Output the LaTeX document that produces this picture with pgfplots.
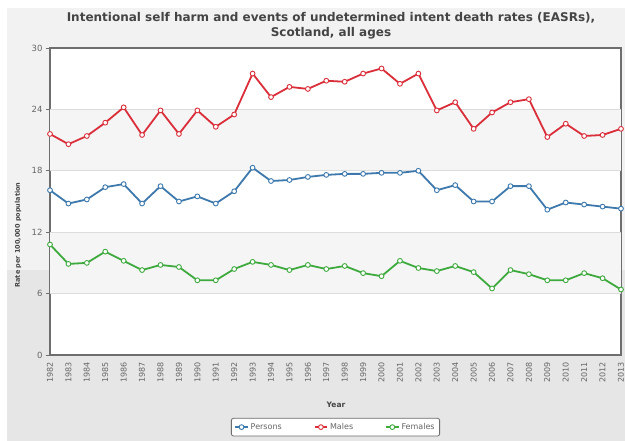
\documentclass[border=0pt]{standalone}
\usepackage{fontspec}
\setmainfont{DejaVu Sans}
\usepackage{pgfplots}
\pgfplotsset{compat=1.18}
\definecolor{persons}{HTML}{3D79AD}
\definecolor{males}{HTML}{DA2F3A}
\definecolor{females}{HTML}{3EAA3E}
\definecolor{bgtop}{HTML}{F2F2F2}
\definecolor{bgbot}{HTML}{E6E6E6}
\definecolor{band}{HTML}{F5F5F5}
\definecolor{gridc}{HTML}{DCDCDC}
\definecolor{frame}{HTML}{6E6E6E}
\definecolor{txt}{HTML}{444444}
\definecolor{ticktxt}{HTML}{666666}
\begin{document}
\begin{tikzpicture}[x=1pt,y=1pt]
\useasboundingbox (0,0) rectangle (625,441);
\fill[white] (0,0) rectangle (625,441);
\fill[bgtop] (7,0) rectangle (625,433);
\fill[bgbot] (7,0) rectangle (625,171);
\begin{axis}[
  at={(50pt,86pt)}, anchor=south west,
  scale only axis, width=571pt, height=307pt,
  xmin=1982, xmax=2013, ymin=0, ymax=30,
  xtick={1982,...,2013},
  ytick={0,6,12,18,24,30},
  ytick pos=left,
  /pgf/number format/assume math mode=true,
  xticklabel style={/pgf/number format/1000 sep=, rotate=90, anchor=east, font=\fontsize{8}{9}\selectfont, text=ticktxt},
  yticklabel style={font=\fontsize{8.5}{9}\selectfont, text=ticktxt},
  xtick style={draw=none},
  ytick style={draw=frame, line width=0.8pt},
  tick align=outside, major tick length=4pt,
  ymajorgrids, grid style={gridc, line width=0.8pt},
  axis line style={frame, line width=1.6pt},
  axis background/.style={fill=white},
  clip=false,
  legend columns=3,
  legend style={at={(0.5,-0.205)}, anchor=north, draw=frame, line width=0.8pt, rounded corners=2pt, fill=white,
     font=\fontsize{8}{9}\selectfont, text=ticktxt, /tikz/every even column/.append style={column sep=30pt}, inner sep=3pt},
  legend image code/.code={\draw[#1, mark repeat=2, mark phase=2] plot coordinates {(0cm,0cm) (0.22cm,0cm) (0.44cm,0cm)};},
  every axis plot/.append style={line width=1.8pt, mark=*, mark size=2.4pt, mark options={fill=white, line width=0.9pt}},
]
\fill[band] (axis cs:1982,6) rectangle (axis cs:2013,12);
\fill[band] (axis cs:1982,18) rectangle (axis cs:2013,24);
\draw[gridc, line width=0.8pt] (axis cs:1982,6) -- (axis cs:2013,6);
\draw[gridc, line width=0.8pt] (axis cs:1982,12) -- (axis cs:2013,12);
\draw[gridc, line width=0.8pt] (axis cs:1982,18) -- (axis cs:2013,18);
\draw[gridc, line width=0.8pt] (axis cs:1982,24) -- (axis cs:2013,24);
\addplot[persons] coordinates {
(1982,16.1)(1983,14.8)(1984,15.2)(1985,16.4)(1986,16.7)(1987,14.8)(1988,16.5)(1989,15.0)(1990,15.5)(1991,14.8)(1992,16.0)(1993,18.3)(1994,17.0)(1995,17.1)(1996,17.4)(1997,17.6)(1998,17.7)(1999,17.7)(2000,17.8)(2001,17.8)(2002,18.0)(2003,16.1)(2004,16.6)(2005,15.0)(2006,15.0)(2007,16.5)(2008,16.5)(2009,14.2)(2010,14.9)(2011,14.7)(2012,14.5)(2013,14.3)};
\addlegendentry{Persons}
\addplot[males] coordinates {
(1982,21.6)(1983,20.6)(1984,21.4)(1985,22.7)(1986,24.2)(1987,21.5)(1988,23.9)(1989,21.6)(1990,23.9)(1991,22.3)(1992,23.5)(1993,27.5)(1994,25.2)(1995,26.2)(1996,26.0)(1997,26.8)(1998,26.7)(1999,27.5)(2000,28.0)(2001,26.5)(2002,27.5)(2003,23.9)(2004,24.7)(2005,22.1)(2006,23.7)(2007,24.7)(2008,25.0)(2009,21.3)(2010,22.6)(2011,21.4)(2012,21.5)(2013,22.1)};
\addlegendentry{Males}
\addplot[females] coordinates {
(1982,10.8)(1983,8.9)(1984,9.0)(1985,10.1)(1986,9.2)(1987,8.3)(1988,8.8)(1989,8.6)(1990,7.3)(1991,7.3)(1992,8.4)(1993,9.1)(1994,8.8)(1995,8.3)(1996,8.8)(1997,8.4)(1998,8.7)(1999,8.0)(2000,7.7)(2001,9.2)(2002,8.5)(2003,8.2)(2004,8.7)(2005,8.1)(2006,6.5)(2007,8.3)(2008,7.9)(2009,7.3)(2010,7.3)(2011,8.0)(2012,7.5)(2013,6.4)};
\addlegendentry{Females}
\end{axis}
\node[align=center, text=txt, font=\bfseries\fontsize{12}{15}\selectfont] at (331,415) {Intentional self harm and events of undetermined intent death rates (EASRs),\\Scotland, all ages};
\node[rotate=90, text=txt, font=\bfseries\fontsize{6.5}{8}\selectfont] at (18,206) {Rate per 100,000 population};
\node[text=txt, font=\bfseries\fontsize{7.5}{8}\selectfont] at (336,36) {Year};
\end{tikzpicture}
\end{document}
